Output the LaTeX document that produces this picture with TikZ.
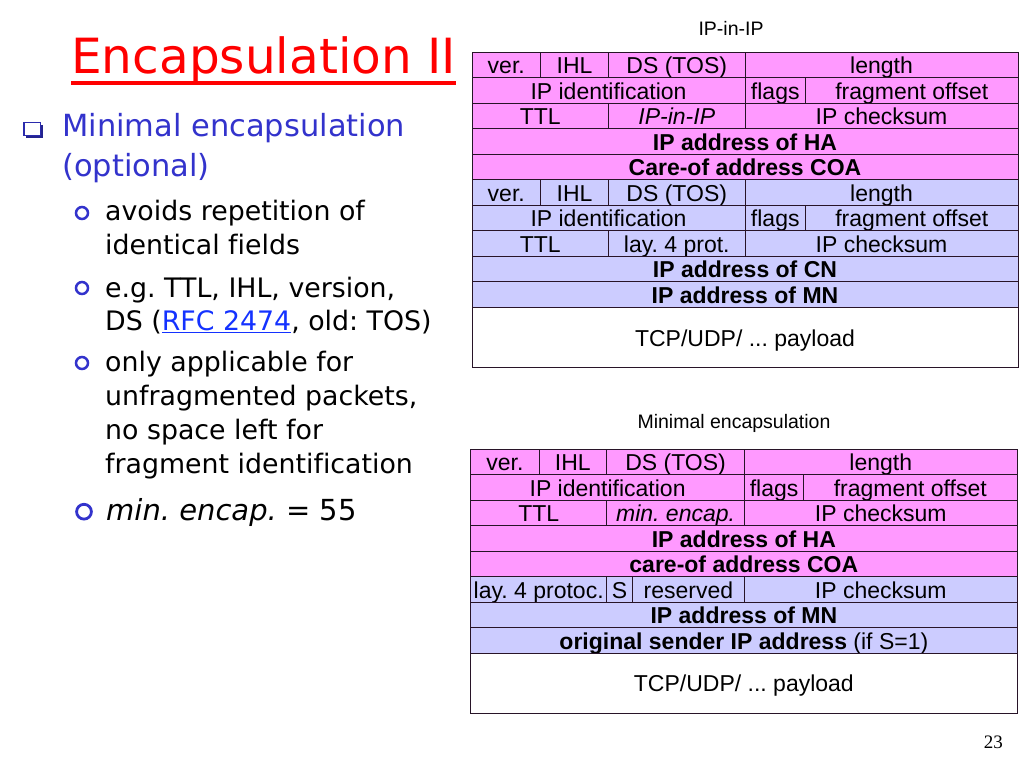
\documentclass[tikz,border=0pt]{standalone}
\usepackage{fontspec}
\setmainfont{DejaVu Sans}[Ligatures=NoCommon]
\newfontfamily\tablefont{Liberation Sans}
\newfontfamily\pagefont{Liberation Serif}
\usepackage{xcolor}
\definecolor{tunnelpink}{RGB}{255,153,255}
\definecolor{origblue}{RGB}{204,204,255}
\definecolor{slideblue}{RGB}{51,51,204}
\definecolor{linkblue}{RGB}{20,50,255}
\definecolor{titlered}{RGB}{255,0,0}
\definecolor{gridline}{RGB}{40,20,40}
\frenchspacing

\begin{document}
\begin{tikzpicture}[x=1pt,y=-1pt,
    field/.style={draw=gridline,line width=0.9pt,inner sep=0pt,outer sep=0pt,anchor=north west,
      minimum height=25.5pt,text height=17pt,text depth=0pt,font=\tablefont\fontsize{23}{27}\selectfont},
    outerfield/.style={field,fill=tunnelpink},
    innerfield/.style={field,fill=origblue},
    payloadbox/.style={field,fill=white,minimum height=60.4pt},
    caption/.style={anchor=base,inner sep=0pt,font=\tablefont\fontsize{19.5}{22}\selectfont},
    mainitem/.style={anchor=base west,inner sep=0pt,text=slideblue,font=\fontsize{30.5}{36}\selectfont},
    subitem/.style={anchor=base west,inner sep=0pt,font=\fontsize{26.8}{32}\selectfont},
    subbullet/.style={slideblue,line width=2.5pt}
]
\useasboundingbox (0,0) rectangle (1024,768);

% title
\node[anchor=base west,inner sep=0pt,text=titlered,font=\fontsize{48.5}{56}\selectfont] (title) at (71,74) {Encapsulation II};
\draw[titlered,line width=3.5pt] ([yshift=-9pt]title.base west) -- ([yshift=-9pt]title.base east);

% bullets on the left
\draw[slideblue!85!black,line width=1.4pt] (24,122.5) rectangle (40.5,135.5);
\draw[slideblue!70!black,line width=2.4pt] (26,136.8) -- (42,136.8) -- (42,124.5);
\node[mainitem] (minimal) at (62,136.7) {Minimal encapsulation};
\node[mainitem] (optional) at (62,176.5) {(optional)};

\draw[subbullet] (82,213) circle[radius=6pt];
\node[subitem] (avoids) at (105,220.7) {avoids repetition of};
\node[subitem] (identical) at (105,254) {identical fields};
\draw[subbullet] (82,288) circle[radius=6pt];
\node[subitem] (eg) at (105,297.3) {e.g. TTL, IHL, version,};
\node[subitem] (ds) at (105,330.7) {DS (\textcolor{linkblue}{\underline{RFC 2474}}, old: TOS)};
\draw[subbullet] (82,363) circle[radius=6pt];
\node[subitem] (only) at (105,371.7) {only applicable for};
\node[subitem] (unfrag) at (105,405) {unfragmented packets,};
\node[subitem] (nospace) at (105,439.3) {no space left for};
\node[subitem] (fragid) at (105,473.3) {fragment identification};
\draw[subbullet,line width=2.8pt] (84,511.7) circle[radius=7.4pt];
\node[subitem,font=\fontsize{29}{34}\selectfont] (proto55) at (106,520.7) {{\itshape min. encap.} = 55};

% IP-in-IP header
\node[caption] (ipipcap) at (731,35.5) {IP-in-IP};
\node[outerfield,minimum width=68.5] (hVer) at (472,52.3) {ver.};
\node[outerfield,minimum width=68] (hIhl) at (540.5,52.3) {IHL};
\node[outerfield,minimum width=136.5] (hDs) at (608.5,52.3) {DS (TOS)};
\node[outerfield,minimum width=273] (hLen) at (745,52.3) {length};
\node[outerfield,minimum width=273] (hId) at (472,77.8) {IP identification};
\node[outerfield,minimum width=60.5] (hFlags) at (745,77.8) {flags};
\node[outerfield,minimum width=212.5] (hFrag) at (805.5,77.8) {fragment offset};
\node[outerfield,minimum width=136.5] (hTtl) at (472,103.3) {TTL};
\node[outerfield,minimum width=136.5] (hProto) at (608.5,103.3) {\itshape IP-in-IP};
\node[outerfield,minimum width=273] (hSum) at (745,103.3) {IP checksum};
\node[outerfield,minimum width=546] (hHa) at (472,128.8) {\bfseries IP address of HA};
\node[outerfield,minimum width=546] (hCoa) at (472,154.3) {\bfseries Care-of address COA};
\node[innerfield,minimum width=68.5] (iVer) at (472,179.8) {ver.};
\node[innerfield,minimum width=68] (iIhl) at (540.5,179.8) {IHL};
\node[innerfield,minimum width=136.5] (iDs) at (608.5,179.8) {DS (TOS)};
\node[innerfield,minimum width=273] (iLen) at (745,179.8) {length};
\node[innerfield,minimum width=273] (iId) at (472,205.3) {IP identification};
\node[innerfield,minimum width=60.5] (iFlags) at (745,205.3) {flags};
\node[innerfield,minimum width=212.5] (iFrag) at (805.5,205.3) {fragment offset};
\node[innerfield,minimum width=136.5] (iTtl) at (472,230.8) {TTL};
\node[innerfield,minimum width=136.5] (iProto) at (608.5,230.8) {lay. 4 prot.};
\node[innerfield,minimum width=273] (iSum) at (745,230.8) {IP checksum};
\node[innerfield,minimum width=546] (iCn) at (472,256.3) {\bfseries IP address of CN};
\node[innerfield,minimum width=546] (iMn) at (472,281.8) {\bfseries IP address of MN};
\node[payloadbox,minimum width=546] (ipipPay) at (472,307.3) {TCP/UDP/ ... payload};

% minimal encapsulation header
\node[caption] (mincap) at (734,428.5) {Minimal encapsulation};
\node[outerfield,minimum width=68.3] (mVer) at (470.7,449.3) {ver.};
\node[outerfield,minimum width=67.7] (mIhl) at (539,449.3) {IHL};
\node[outerfield,minimum width=137.8] (mDs) at (606.7,449.3) {DS (TOS)};
\node[outerfield,minimum width=272.5] (mLen) at (744.5,449.3) {length};
\node[outerfield,minimum width=273.8] (mId) at (470.7,474.8) {IP identification};
\node[outerfield,minimum width=59.1] (mFlags) at (744.5,474.8) {flags};
\node[outerfield,minimum width=213.4] (mFrag) at (803.6,474.8) {fragment offset};
\node[outerfield,minimum width=136] (mTtl) at (470.7,500.3) {TTL};
\node[outerfield,minimum width=137.8] (mProto) at (606.7,500.3) {\itshape min. encap.};
\node[outerfield,minimum width=272.5] (mSum) at (744.5,500.3) {IP checksum};
\node[outerfield,minimum width=546.3] (mHa) at (470.7,525.8) {\bfseries IP address of HA};
\node[outerfield,minimum width=546.3] (mCoa) at (470.7,551.3) {\bfseries care-of address COA};
\node[innerfield,minimum width=136] (mLay) at (470.7,576.8) {lay. 4 protoc.};
\node[innerfield,minimum width=25.6] (mS) at (606.7,576.8) {S};
\node[innerfield,minimum width=112.2] (mRes) at (632.3,576.8) {reserved};
\node[innerfield,minimum width=272.5] (mSum2) at (744.5,576.8) {IP checksum};
\node[innerfield,minimum width=546.3] (mMn) at (470.7,602.3) {\bfseries IP address of MN};
\node[innerfield,minimum width=546.3] (mOrig) at (470.7,627.8) {\textbf{original sender IP address} (if S=1)};
\node[payloadbox,minimum width=546.3,minimum height=60pt] (minPay) at (470.7,653.3) {TCP/UDP/ ... payload};

\node[anchor=base east,inner sep=0pt,font=\pagefont\fontsize{19}{22}\selectfont] (pageno) at (1003,748) {23};
\end{tikzpicture}
\end{document}
